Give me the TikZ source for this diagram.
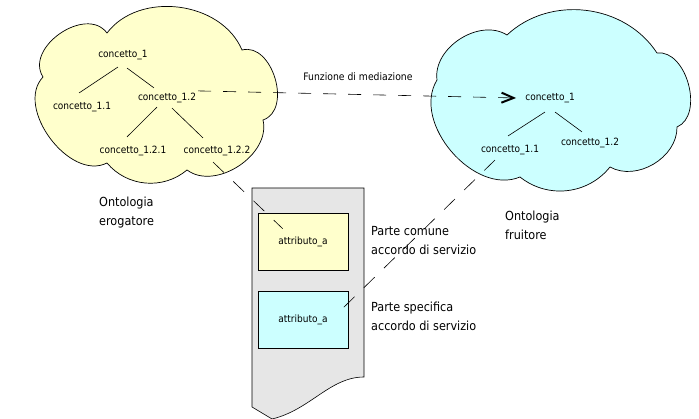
\documentclass[tikz,border=0pt]{standalone}
\usepackage{fontspec}
\setmainfont{DejaVu Sans Condensed}
\usepackage{tikz}
\usetikzlibrary{arrows.meta}

\definecolor{ergyellow}{HTML}{FFFFCC}
\definecolor{frucyan}{HTML}{CCFFFF}
\definecolor{docgray}{HTML}{E6E6E6}

\tikzset{
  concept/.style={inner sep=2pt,font=\fontsize{10}{12}\selectfont},
  cloudline/.style={draw=black,line width=0.7pt},
  tree/.style={line width=0.6pt},
  link/.style={line width=0.6pt,dash pattern=on 15pt off 13pt},
  attrbox/.style={draw=black,line width=0.6pt,minimum width=90pt,minimum height=57pt,inner sep=0pt,font=\fontsize{10}{12}\selectfont},
  caption/.style={align=left,anchor=west,inner sep=0pt,font=\fontsize{12.5}{19}\selectfont}
}

\begin{document}
\begin{tikzpicture}[x=1pt,y=-1pt]
    \useasboundingbox (0,0) rectangle (699,419);
    % ontologia erogatore
    \draw[cloudline,fill=ergyellow] (43,77)
        to [bend left=88,looseness=1.15] (107,33)
        to [bend left=60] (242,50)
        to [bend left=88,looseness=1.1] (263,120)
        to [bend left=70] (187,170)
        to [bend left=45] (107,163)
        to [bend left=80] cycle;
    % ontologia fruitore
    \draw[cloudline,fill=frucyan] (437,80)
        to [bend left=65] (507,35)
        to [bend left=50] (657,53)
        to [bend left=82] (677,127)
        to [bend left=60] (610,167)
        to [bend left=45] (520,177)
        to [bend left=72] cycle;
    % accordo di servizio
    \draw[line width=0.6pt,fill=docgray] (252,188) -- (364,188) -- (364,377)
        .. controls (330,377) and (310,410) .. (272,419) -- (252,407) -- cycle;
    \node[attrbox,fill=ergyellow] (attrA) at (303,241.5) {attributo\_a};
    \node[attrbox,fill=frucyan] (attrB) at (303,319.5) {attributo\_a};
    %
    \node[concept] (c1) at (123,55) {concetto\_1};
    \node[concept] (c11) at (82,107) {concetto\_1.1};
    \node[concept] (c12) at (167,98) {concetto\_1.2};
    \node[concept] (c121) at (133,151) {concetto\_1.2.1};
    \node[concept] (c122) at (217,151) {concetto\_1.2.2};
    %
    \node[concept] (r1) at (550,98) {concetto\_1};
    \node[concept] (r11) at (510,150) {concetto\_1.1};
    \node[concept] (r12) at (590,143) {concetto\_1.2};
    %
    \draw[tree] ([shift={(-5,5)}]c1.south) -- ([shift={(-3,-7)}]c11.north);
    \draw[tree] ([shift={(4,6)}]c1.south) -- ([shift={(-13,-3)}]c12.north);
    \draw[tree] ([shift={(-10,2)}]c12.south) -- ([shift={(-6,-7)}]c121.north);
    \draw[tree] ([shift={(5,3)}]c12.south) -- ([shift={(-14,-6)}]c122.north);
    \draw[tree] ([shift={(-5,7)}]r1.south) -- ([shift={(-2,-7)}]r11.north);
    \draw[tree] ([shift={(5,7)}]r1.south) -- ([shift={(-8,-4)}]r12.north);
    %
    \node[concept,font=\fontsize{10.3}{12}\selectfont] (medlabel) at (358,77) {Funzione di mediazione};
    \draw[line width=0.6pt,dash pattern=on 13pt off 12pt,
          -{Straight Barb[length=12pt,width=10pt,line width=2pt]}]
        (c12.north east) -- ([xshift=-7pt]r1.west);
    %
    \draw[link] ([shift={(-4,4)}]c122.south) -- ([shift={(25,16)}]attrA.north west);
    \draw[link] ([shift={(-15,3)}]r11.south) -- ([shift={(-6,18)}]attrB.north east);
    %
    \node[caption] (ontA) at (99,213) {Ontologia\\erogatore};
    \node[caption] (ontB) at (505,225) {Ontologia\\fruitore};
    \node[caption] (comune) at (371,240.5) {Parte comune\\accordo di servizio};
    \node[caption] (specif) at (371,316.5) {Parte specifica\\accordo di servizio};
\end{tikzpicture}
\end{document}
